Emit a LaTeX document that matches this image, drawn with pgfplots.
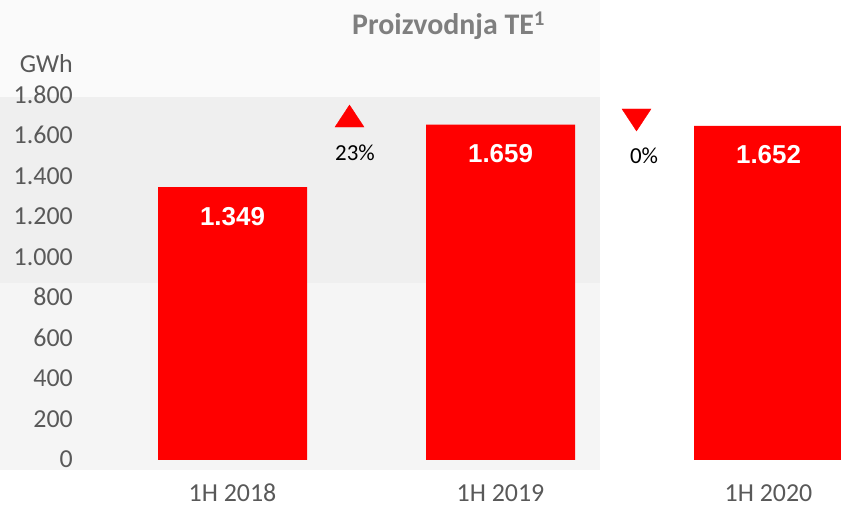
\documentclass[border=0pt]{standalone}
\usepackage{pgfplots}
\pgfplotsset{compat=1.18}
\usepackage{fontspec}
\setmainfont{Carlito}
\newfontfamily\arialfont{Liberation Sans}
\definecolor{barred}{HTML}{FF0000}
\definecolor{txtgray}{HTML}{595959}
\definecolor{titlegray}{HTML}{7F7F7F}
\definecolor{bgA}{HTML}{EFEFEF}
\definecolor{bgB}{HTML}{F5F5F5}
\definecolor{bgC}{HTML}{FAFAFA}
\begin{document}
\begin{tikzpicture}
\useasboundingbox (0bp,0bp) rectangle (841bp,506bp);
\fill[white] (0bp,0bp) rectangle (841bp,506bp);
\fill[bgC] (0bp,409bp) rectangle (600bp,506bp);
\fill[bgB] (0bp,36bp) rectangle (600bp,409bp);
\fill[bgA] (0bp,223bp) rectangle (600bp,409bp);
\begin{axis}[
  at={(98.5bp,46bp)}, anchor=south west,
  scale only axis,
  width=742.5bp, height=364bp,
  xmin=-0.5, xmax=2.2705,
  ymin=0, ymax=1800,
  axis line style={draw=none},
  tick style={draw=none},
  major tick length=0pt,
  ytick={0,200,...,1800},
  yticklabels={0,200,400,600,800,1.000,1.200,1.400,1.600,1.800},
  xtick={0,1,2},
  xticklabels={1H 2018,1H 2019,1H 2020},
  yticklabel style={anchor=base east, inner sep=0pt, xshift=-25.5bp, yshift=-7.5bp,
    font=\fontsize{26}{30}\selectfont, text=txtgray},
  xticklabel style={anchor=base, inner sep=0pt, yshift=-41bp,
    font=\fontsize{26}{30}\selectfont, text=txtgray},
]
\addplot[ybar, bar width=149bp, fill=barred, draw=none,
  nodes near coords, point meta=explicit symbolic,
  every node near coord/.append style={anchor=base, inner sep=0pt, yshift=-38bp,
    text=white, font=\arialfont\bfseries\fontsize{26}{30}\selectfont}]
  coordinates {(0,1349) [1.349] (1,1659) [1.659] (2,1652) [1.652]};
\addplot[only marks, mark=triangle*, mark size=16.74bp, color=barred,
  mark options={yscale=0.876, fill=barred, draw=none}]
  coordinates {(0.4366,1682.8)};
\addplot[only marks, mark=triangle*, mark size=16.74bp, color=barred,
  mark options={rotate=180, yscale=0.876, fill=barred, draw=none}]
  coordinates {(1.5075,1699.6)};
\addplot[draw=none, mark=none, nodes near coords, point meta=explicit symbolic,
  every node near coord/.append style={anchor=base, inner sep=0pt, text=black,
    font=\fontsize{23}{27}\selectfont}]
  coordinates {(0.4571,1483.5) [23\%] (1.5354,1467) [0\%]};
\end{axis}
\node[anchor=base east, inner sep=0pt, text=txtgray, font=\fontsize{26}{30}\selectfont] at (73bp,433bp) {GWh};
\node[anchor=base west, inner sep=0pt, text=titlegray, font=\bfseries\fontsize{30}{34}\selectfont] at (352bp,471bp) {Proizvodnja TE\textsuperscript{1}};
\end{tikzpicture}
\end{document}
